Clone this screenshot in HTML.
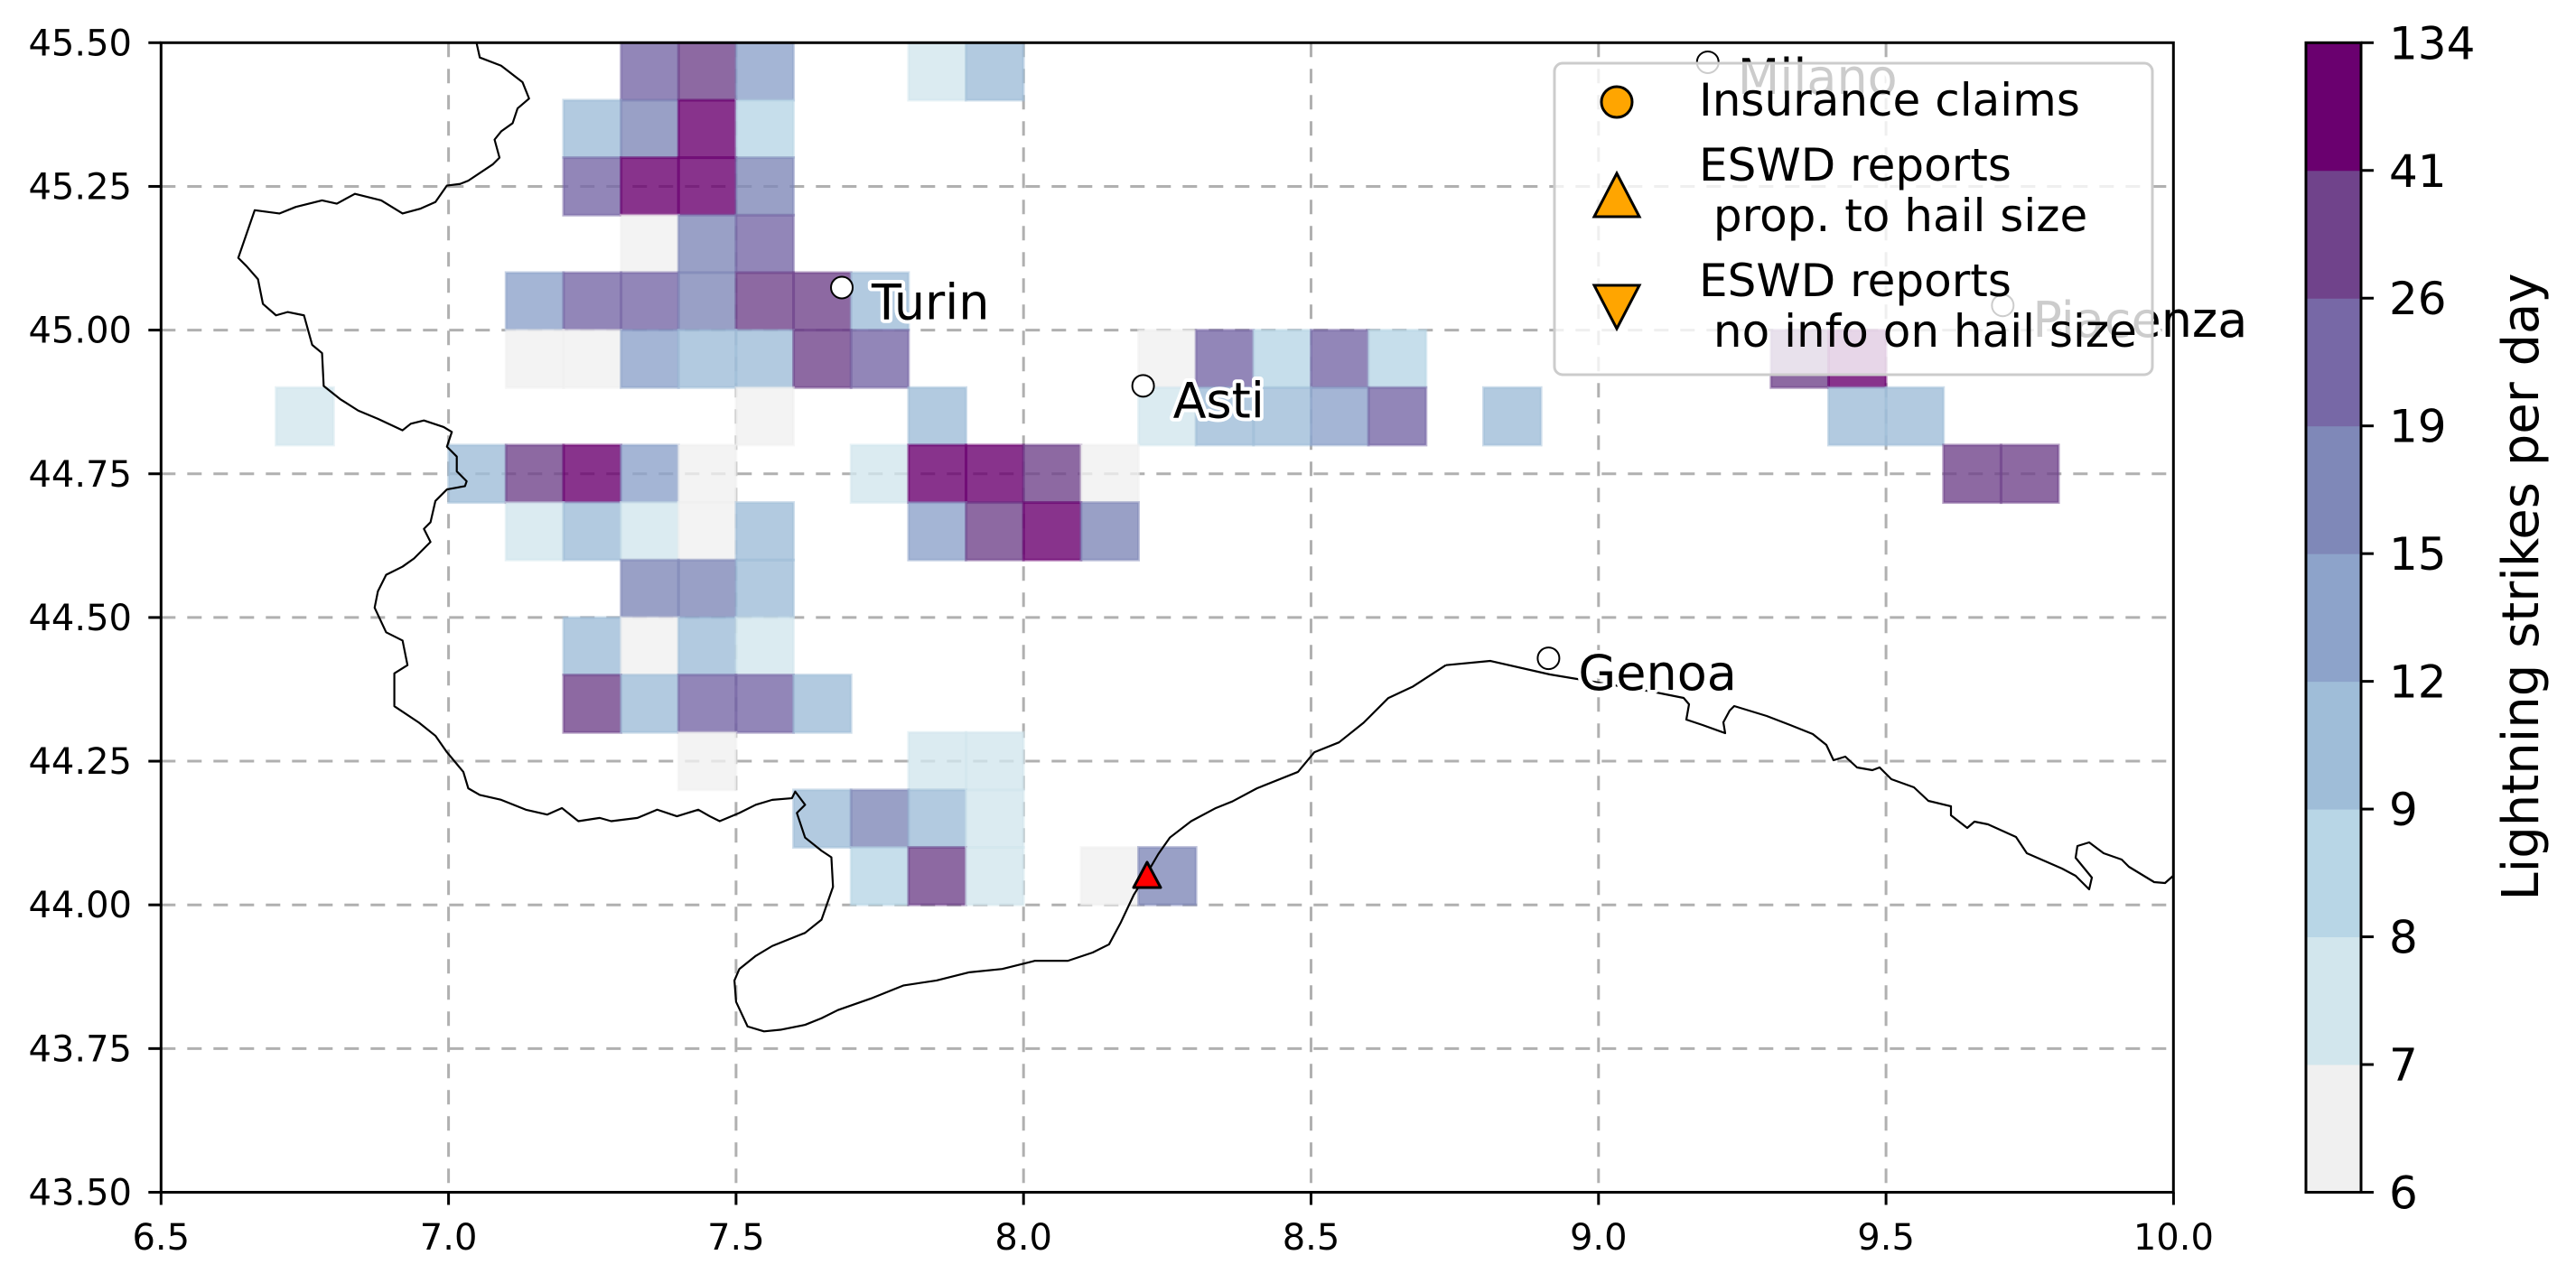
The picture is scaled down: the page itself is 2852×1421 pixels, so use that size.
<!DOCTYPE html>
<html><head><meta charset="utf-8"><style>
html,body{margin:0;padding:0;background:#fff;}
svg{display:block;font-family:"DejaVu Sans","Liberation Sans",sans-serif;}
</style></head><body>
<svg id="chart" width="2852" height="1421" viewBox="0 0 2852 1421" xmlns="http://www.w3.org/2000/svg">
<rect width="2852" height="1421" fill="#fff"/>
<g id="grid"></g>
<g id="cells"></g>
<g fill="none" stroke="#000" stroke-width="2.2" stroke-linejoin="round">
<path transform="translate(178.3,47.3) scale(1.819) translate(-98,-26)" stroke-width="1.2" d="M290,26 L292,35 305,40 318,50 322,60 315,66 312,75 305,80 301,85 304,96 300,100 285,110 280,112 272,113 265,123 256,127 245,130 232,122 216,118 205,124 196,122 180,126 170,130 155,128 145,157 150,162 157,170 160,185 168,192 175,190 185,192 190,210 196,215 197,235 207,243 218,250 230,255 245,262 250,258 258,256 270,260 275,263 272,272 278,278 278,287 284,293 283,296 272,298 265,305 262,318 258,322 262,330 252,340 245,345 235,350 230,360 228,370 235,385 245,390 248,405 240,410 240,430 255,440 265,448 272,458 282,470 285,480 292,484 305,487 320,493 333,496 342,492 352,500 365,498 372,500 388,498 400,493 412,497 425,493 432,497 438,500 450,495 460,490 470,487 482,486 484,482 490,490 485,495 490,510 500,518 506,522 507,540 500,560 490,568 470,576 460,582 450,590 447,597 448,610 455,625 465,628 475,627 490,624 500,620 510,615 530,608 550,600 570,597 590,592 610,590 630,585 650,585 665,580 675,575 682,562 690,545 698,532 705,520 712,510 725,500 740,492 750,488 765,480 790,470 800,458 815,452 830,440 845,425 860,418 880,405"/>
<path d="M1600.8,736.7 L1650,732 1716,747 1752,753 1829,766 1864,773 1870,780 1867,797 1885,803 1910,812 1908,800 1915,787 1920,782 1956,793 1982,803 2007,813 2022,825 2030,842 2043,838 2056,850 2073,853 2081,850 2094,863 2119,872 2135,887 2160,893 2160,903 2178,917 2186,910 2201,913 2232,927 2244,945 2283,962 2298,970 2313,985 2316,972 2298,950 2300,937 2313,933 2329,945 2349,952 2357,960 2385,977 2397,978 2406,970"/>
</g>
<g id="cities"></g>
<path d="M1270,955 L1285,983 1255,983 Z" fill="#f00" stroke="#000" stroke-width="3" stroke-linejoin="round"/>
<g>
<rect x="1721" y="70" width="662" height="345" rx="9" fill="#fff" fill-opacity="0.8" stroke="#cccccc" stroke-width="3"/>
<circle cx="1790" cy="113" r="17" fill="#ffa500" stroke="#000" stroke-width="3"/>
<path d="M1790,192 L1815,240 1765,240 Z" fill="#ffa500" stroke="#000" stroke-width="3"/>
<path d="M1790,364 L1815,316 1765,316 Z" fill="#ffa500" stroke="#000" stroke-width="3"/>
<g font-size="50" fill="#000">
<text x="1881" y="128">Insurance claims</text>
<text x="1881" y="200" xml:space="preserve"><tspan x="1881" y="200">ESWD reports</tspan><tspan x="1881" y="256"> prop. to hail size</tspan></text>
<text x="1881" y="328" xml:space="preserve"><tspan x="1881" y="328">ESWD reports</tspan><tspan x="1881" y="384"> no info on hail size</tspan></text>
</g>
</g>
<rect x="178.3" y="47.3" width="2228" height="1273.2" fill="none" stroke="#000" stroke-width="3"/>
<g id="ticks"></g>
<g id="cbar"></g>
<text transform="translate(2810,650) rotate(-90)" text-anchor="middle" font-size="56">Lightning strikes per day</text>
</svg>
<script>
const cellLon = [7.3,7.4,7.5,7.8,7.9, 7.2,7.3,7.4,7.5, 7.2,7.3,7.4,7.5, 7.3,7.4,7.5, 7.1,7.2,7.3,7.4,7.5,7.6,7.7,
 7.1,7.2,7.3,7.4,7.5,7.6,7.7,8.2,8.3,8.4,8.5,8.6,9.3,9.4,
 6.7,7.5,7.8,8.2,8.3,8.4,8.5,8.6,8.8,9.4,9.5,
 7.0,7.1,7.2,7.3,7.4,7.7,7.8,7.9,8.0,8.1,9.6,9.7,
 7.1,7.2,7.3,7.4,7.5,7.8,7.9,8.0,8.1,
 7.3,7.4,7.5, 7.2,7.3,7.4,7.5, 7.2,7.3,7.4,7.5,7.6, 7.4,7.8,7.9, 7.6,7.7,7.8,7.9, 7.7,7.8,7.9,8.1,8.2];
const cellLat = [45.4,45.4,45.4,45.4,45.4, 45.3,45.3,45.3,45.3, 45.2,45.2,45.2,45.2, 45.1,45.1,45.1, 45.0,45.0,45.0,45.0,45.0,45.0,45.0,
 44.9,44.9,44.9,44.9,44.9,44.9,44.9,44.9,44.9,44.9,44.9,44.9,44.9,44.9,
 44.8,44.8,44.8,44.8,44.8,44.8,44.8,44.8,44.8,44.8,44.8,
 44.7,44.7,44.7,44.7,44.7,44.7,44.7,44.7,44.7,44.7,44.7,44.7,
 44.6,44.6,44.6,44.6,44.6,44.6,44.6,44.6,44.6,
 44.5,44.5,44.5, 44.4,44.4,44.4,44.4, 44.3,44.3,44.3,44.3,44.3, 44.2,44.2,44.2, 44.1,44.1,44.1,44.1, 44.0,44.0,44.0,44.0,44.0];
const cellVal = [22,30,13,7.5,10, 10,17,60,8.5, 22,60,60,17, 6.5,17,22, 13,22,22,17,30,30,10,
 6.5,6.5,13,10,10,30,22,6.5,22,8.5,22,8.5,30,60,
 7.5,6.5,10,7.5,10,10,13,22,10,10,10,
 10,30,60,13,6.5,7.5,60,60,30,6.5,30,30,
 7.5,10,7.5,6.5,10,13,30,60,17,
 17,17,10, 10,6.5,10,7.5, 30,10,22,22,10, 6.5,7.5,7.5, 10,17,10,7.5, 8.5,30,7.5,6.5,17];
const levels = [6,7,8,9,12,15,19,26,41,134];
const levelColors = ["#f0f0f0","#d2e6ed","#b8d6e6","#9fbdd8","#8da3ca","#7f88b8","#7768a6","#70438b","#6a006f"];
const xTicks = [6.5,7.0,7.5,8.0,8.5,9.0,9.5,10.0];
const yTicks = [43.5,43.75,44.0,44.25,44.5,44.75,45.0,45.25,45.5];
const cityNames = ["Milano","Turin","Asti","Genoa","Piacenza"];
const cityLon = [9.19,7.684,8.208,8.913,9.703];
const cityLat = [45.466,45.074,44.903,44.429,45.043];

const NS="http://www.w3.org/2000/svg";
const X0=178.3, Y0=47.3, PX=636.6;
const xs = lon => X0 + (lon-6.5)*PX;
const ys = lat => Y0 + (45.5-lat)*PX;
function mk(tag, attrs, parent){const e=document.createElementNS(NS,tag);for(const k in attrs)e.setAttribute(k,attrs[k]);parent.appendChild(e);return e;}
function colorFor(v){for(let i=0;i<levels.length-1;i++){if(v<levels[i+1])return levelColors[i];}return levelColors[levelColors.length-1];}

const grid=document.getElementById('grid');
xTicks.slice(1,-1).forEach(t=>{const l=mk('line',{x1:xs(t),x2:xs(t),y1:Y0,y2:ys(43.5),stroke:'#b0b0b0','stroke-width':3,'stroke-dasharray':'16 13'},grid);

});
yTicks.slice(1,-1).forEach(t=>{const l=mk('line',{x1:X0,x2:xs(10),y1:ys(t),y2:ys(t),stroke:'#b0b0b0','stroke-width':3,'stroke-dasharray':'16 13'},grid);

});

const cells=document.getElementById('cells');
for(let i=0;i<cellVal.length;i++){
 const c=colorFor(cellVal[i]);
 const r=mk('rect',{x:xs(cellLon[i]),y:ys(cellLat[i]+0.1),width:0.1*PX,height:0.1*PX,fill:c,'fill-opacity':0.8,stroke:c,'stroke-opacity':0.5,'stroke-width':3},cells);
 
 
}

const cities=document.getElementById('cities');
for(let i=0;i<cityNames.length;i++){
 const cx=xs(cityLon[i]), cy=ys(cityLat[i]);
 const m=mk('circle',{cx:cx,cy:cy,r:12,fill:'#fff',stroke:'#000','stroke-width':2},cities);
 
 
 const h=mk('text',{x:cx+33,y:cy+35,'font-size':54,fill:'#fff',stroke:'#fff','stroke-width':8,'stroke-linejoin':'round'},cities);
 h.textContent=cityNames[i];
 
 
 const t=mk('text',{x:cx+33,y:cy+35,'font-size':54,fill:'#000'},cities);
 t.textContent=cityNames[i];
 
 
}

const ticks=document.getElementById('ticks');
xTicks.forEach(t=>{
 const l=mk('line',{x1:xs(t),x2:xs(t),y1:ys(43.5),y2:ys(43.5)+14,stroke:'#000','stroke-width':3},ticks);
 
 
 const tx=mk('text',{x:xs(t),y:1384,'text-anchor':'middle','font-size':40},ticks);
 tx.textContent=t.toFixed(1);
 
 
});
yTicks.forEach(t=>{
 const l=mk('line',{x1:X0-14,x2:X0,y1:ys(t),y2:ys(t),stroke:'#000','stroke-width':3},ticks);
 
 
 const tx=mk('text',{x:146,y:ys(t)+14,'text-anchor':'end','font-size':40},ticks);
 tx.textContent=t.toFixed(2);
 
 
});

const cb=document.getElementById('cbar');
const CX=2553, CW=61, CT=47.3, CB=1320.5, n=levelColors.length, seg=(CB-CT)/n;
levelColors.forEach((c,i)=>{
 const r=mk('rect',{x:CX,y:CB-(i+1)*seg,width:CW,height:seg+0.5,fill:c},cb);
 
 
});
const fr=mk('rect',{x:CX,y:CT,width:CW,height:CB-CT,fill:'none',stroke:'#000','stroke-width':3},cb);


levels.forEach((v,i)=>{
 const y=CB-i*seg;
 const l=mk('line',{x1:CX+CW,x2:CX+CW+14,y1:y,y2:y,stroke:'#000','stroke-width':3},cb);
 
 
 const t=mk('text',{x:2645,y:y+18,'font-size':50},cb);
 t.textContent=String(v);
 
 
});
</script>
</body></html>
